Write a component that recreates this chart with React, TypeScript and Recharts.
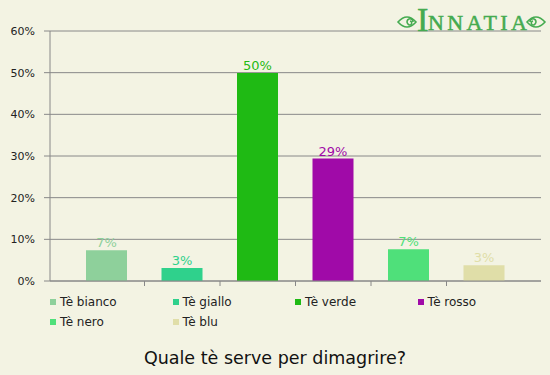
import React from 'react';
import { BarChart, Bar, XAxis, YAxis, CartesianGrid, Cell, LabelList, Legend } from 'recharts';

const categories = ['Tè bianco', 'Tè giallo', 'Tè verde', 'Tè rosso', 'Tè nero', 'Tè blu'];
const values = [7.4, 3.1, 49.9, 29.4, 7.6, 3.8];
const valueLabels = ['7%', '3%', '50%', '29%', '7%', '3%'];
const colors = ['#8ed09b', '#2fd18c', '#1fba14', '#a00aa8', '#4fe07a', '#e0dea8'];
const yTicks = [0, 10, 20, 30, 40, 50, 60];
const title = 'Quale tè serve per dimagrire?';

const data = categories.map((name, i) => ({ name, value: values[i], label: valueLabels[i] }));

const W = 550;
const H = 375;
const BG = '#f3f3e3';
const GRID = '#888888';
const FONT = '"DejaVu Sans", Verdana, sans-serif';
const PLOT_LEFT = 50;
const PLOT_RIGHT = 541;
const PLOT_TOP = 31;
const PLOT_BOTTOM = 281;
const PAD = 19;
const BAND = (PLOT_RIGHT - PLOT_LEFT - 2 * PAD) / categories.length;

const XTick = (props: any) => {
  const { x, y, index } = props;
  if (index >= categories.length - 1) return <g />;
  const lx = x + BAND / 2;
  return <line x1={lx} x2={lx} y1={y} y2={y + 5} stroke={GRID} strokeWidth={1} />;
};

const BarLabel = (props: any) => {
  const { x, y, width, index } = props;
  return (
    <text
      x={x + width / 2}
      y={y - 3}
      textAnchor="middle"
      fill={colors[index]}
      fontSize={13}
      fontFamily={FONT}
    >
      {valueLabels[index]}
    </text>
  );
};

const LegendContent = () => (
  <div style={{ position: 'relative', width: W, height: 50 }}>
    {categories.map((c, i) => {
      const col = i % 4;
      const row = Math.floor(i / 4);
      return (
        <div
          key={c}
          style={{
            position: 'absolute',
            left: PLOT_LEFT + col * 122.5,
            top: row * 20,
            height: 20,
            display: 'flex',
            alignItems: 'center',
            fontFamily: FONT,
            fontSize: 12,
            color: '#222',
            whiteSpace: 'nowrap',
          }}
        >
          <span style={{ display: 'inline-block', width: 6, height: 6, background: colors[i], marginRight: 4 }} />
          <span>{c}</span>
        </div>
      );
    })}
  </div>
);

const Logo = () => {
  const g = '#45ab50';
  return (
    <g>
      <path d="M416 22 Q407 12 398 22 Q407 32 416 22 Z" fill="none" stroke={g} strokeWidth={1.6} />
      <path d="M413 22 a3 3 0 1 0 -5 2 a2 2 0 1 0 2 -3" fill="none" stroke={g} strokeWidth={1.6} />
      <path d="M527 22 Q536 12 545 22 Q536 32 527 22 Z" fill="none" stroke={g} strokeWidth={1.6} />
      <path d="M530 22 a3 3 0 1 1 5 2 a2 2 0 1 1 -2 -3" fill="none" stroke={g} strokeWidth={1.6} />
      <text x={417} y={31} fontFamily='"Liberation Serif", serif' fontSize={34} fill={g} stroke={g} strokeWidth={0.6}>I</text>
      <text
        x={428}
        y={30}
        fontFamily='"Liberation Serif", serif'
        fontSize={22}
        fill={g}
        stroke={g}
        strokeWidth={0.5}
        textLength={99}
        lengthAdjust="spacing"
      >
        NNATIA
      </text>
    </g>
  );
};

export default function App() {
  return (
    <div style={{ position: 'absolute', left: 0, top: 0, width: W, height: H, background: BG }}>
      <BarChart
        width={W}
        height={H}
        data={data}
        margin={{ top: PLOT_TOP, right: W - PLOT_RIGHT, left: 0, bottom: 0 }}
      >
        <CartesianGrid vertical={false} stroke={GRID} strokeWidth={1} />
        <XAxis
          dataKey="name"
          padding={{ left: PAD, right: PAD }}
          height={H - PLOT_BOTTOM}
          axisLine={{ stroke: GRID }}
          tickLine={false}
          tickSize={0}
          tickMargin={0}
          tick={<XTick />}
          interval={0}
        />
        <YAxis
          width={PLOT_LEFT}
          domain={[0, 60]}
          ticks={yTicks}
          tickFormatter={(v: number) => `${v}%`}
          axisLine={{ stroke: GRID }}
          tickLine={{ stroke: GRID }}
          tickSize={6}
          tickMargin={9}
          tick={{ fontSize: 11, fontFamily: FONT, fill: '#222' }}
          interval={0}
        />
        <Legend
          layout="horizontal"
          verticalAlign="middle"
          align="center"
          content={<LegendContent />}
          wrapperStyle={{ position: 'absolute', top: 292, left: 0, width: W, height: 50 }}
        />
        <Bar dataKey="value" barSize={41} isAnimationActive={false}>
          {data.map((d, i) => (
            <Cell key={d.name} fill={colors[i]} />
          ))}
          <LabelList dataKey="label" content={<BarLabel />} />
        </Bar>
      </BarChart>
      <svg
        width={W}
        height={H}
        style={{ position: 'absolute', left: 0, top: 0, pointerEvents: 'none' }}
      >
        <Logo />
        <text x={275} y={364} textAnchor="middle" fontFamily={FONT} fontSize={17.5} fill="#111">
          {title}
        </text>
      </svg>
    </div>
  );
}
